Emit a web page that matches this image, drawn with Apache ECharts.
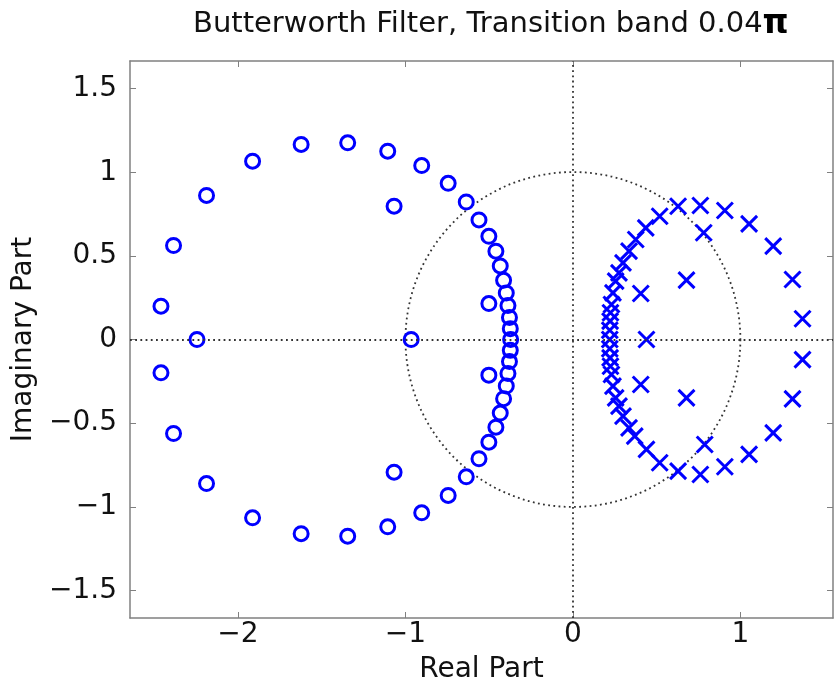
<!DOCTYPE html>
<html>
<head>
<meta charset="utf-8">
<script src="https://cdn.jsdelivr.net/npm/echarts@6/dist/echarts.min.js"></script>
<style>
    html, body { margin: 0; padding: 0; background: #fff; }
    #chart { width: 834px; height: 692px; }
</style>
</head>
<body>
<div id="chart"></div>
<script>
    // tick labels
    var xTicks = [-2, -1, 0, 1];
    var yTicks = [-1.5, -1, -0.5, 0, 0.5, 1, 1.5];

    // zeros (circles)
    var zerosRe = [
        -1.623, -1.913, -2.188, -2.385, -2.460, -2.245, -2.460, -2.385, -2.188, -1.913, -1.623,
        -1.345, -1.106, -0.903, -0.745, -0.637, -0.561, -0.502, -0.460, -0.434, -0.414, -0.398, -0.388, -0.379, -0.374,
        -0.372,
        -0.374, -0.379, -0.388, -0.398, -0.414, -0.434, -0.460, -0.502, -0.561, -0.637, -0.745, -0.903, -1.106, -1.345,
        -1.068, -1.068, -0.502, -0.502, -0.966
    ];
    var zerosIm = [
        1.166, 1.066, 0.861, 0.562, 0.199, 0, -0.199, -0.562, -0.861, -1.066, -1.161,
        1.176, 1.126, 1.040, 0.934, 0.822, 0.715, 0.617, 0.528, 0.440, 0.354, 0.278, 0.203, 0.132, 0.065,
        0,
        -0.065, -0.132, -0.203, -0.278, -0.354, -0.440, -0.524, -0.614, -0.713, -0.821, -0.932, -1.036, -1.120, -1.176,
        0.797, -0.793, 0.215, -0.213, 0
    ];

    // poles (crosses)
    var polesRe = [
        0.628, 0.761, 0.907, 1.052, 1.196, 1.311, 1.371, 1.371, 1.311, 1.196, 1.052, 0.907, 0.761, 0.628,
        0.781, 0.678, 0.405, 0.439, 0.405, 0.678, 0.787,
        0.518, 0.435, 0.375, 0.335, 0.299, 0.275, 0.255, 0.239, 0.230, 0.224, 0.222, 0.220,
        0.220,
        0.220, 0.222, 0.224, 0.230, 0.239, 0.255, 0.275, 0.299, 0.335, 0.369, 0.439, 0.518
    ];
    var polesIm = [
        0.797, 0.801, 0.771, 0.691, 0.558, 0.359, 0.124, -0.120, -0.355, -0.558, -0.687, -0.761, -0.807, -0.787,
        0.638, 0.355, 0.275, 0, -0.269, -0.349, -0.628,
        0.737, 0.667, 0.598, 0.528, 0.458, 0.398, 0.349, 0.279, 0.209, 0.160, 0.110, 0.055,
        0,
        -0.055, -0.110, -0.160, -0.209, -0.279, -0.349, -0.398, -0.458, -0.528, -0.578, -0.657, -0.737
    ];

    function pairs(re, im) {
        var out = [];
        for (var i = 0; i < re.length; i++) out.push([re[i], im[i]]);
        return out;
    }

    var font = 'DejaVu Sans';
    var frameColor = '#808080';
    var xMin = -2.645, xMax = 1.553, yMin = -1.665, yMax = 1.665;

    function minusFmt(v) {
        return String(v).replace('-', '\u2212');
    }

    var chart = echarts.init(document.getElementById('chart'));
    chart.setOption({
        backgroundColor: '#fff',
        animation: false,
        title: {
            text: 'Butterworth Filter, Transition band 0.04{p|\u03c0}',
            left: 188,
            top: 3,
            textStyle: {
                fontFamily: font,
                fontSize: 29,
                fontWeight: 'normal',
                color: '#111',
                rich: {
                    p: { fontFamily: font, fontSize: 33, fontWeight: 'bold', color: '#000' }
                }
            }
        },
        grid: { left: 130, right: 1, top: 61, bottom: 74 },
        xAxis: [{
            type: 'value',
            min: xMin, max: xMax,
            name: 'Real Part',
            nameLocation: 'middle',
            nameGap: 38,
            nameTextStyle: { fontFamily: font, fontSize: 28, color: '#111' },
            axisLine: { onZero: false, lineStyle: { color: frameColor, width: 1.5 } },
            axisTick: { inside: true, length: 6, customValues: xTicks, lineStyle: { color: frameColor } },
            axisLabel: {
                customValues: xTicks, margin: 3, formatter: minusFmt,
                fontFamily: font, fontSize: 28, color: '#111'
            },
            splitLine: { show: false }
        }, {
            type: 'value',
            position: 'top',
            min: xMin, max: xMax,
            axisLine: { onZero: false, lineStyle: { color: frameColor, width: 1.5 } },
            axisTick: { inside: true, length: 6, customValues: xTicks, lineStyle: { color: frameColor } },
            axisLabel: { show: false },
            splitLine: { show: false }
        }],
        yAxis: [{
            type: 'value',
            min: yMin, max: yMax,
            name: 'Imaginary Part',
            nameLocation: 'middle',
            nameGap: 66,
            nameTextStyle: { fontFamily: font, fontSize: 28, color: '#111' },
            axisLine: { show: true, onZero: false, lineStyle: { color: frameColor, width: 1.5 } },
            axisTick: { show: true, inside: true, length: 6, customValues: yTicks, lineStyle: { color: frameColor } },
            axisLabel: {
                customValues: yTicks, margin: 13, formatter: minusFmt,
                fontFamily: font, fontSize: 28, color: '#111'
            },
            splitLine: { show: false }
        }, {
            type: 'value',
            position: 'right',
            min: yMin, max: yMax,
            axisLine: { show: true, onZero: false, lineStyle: { color: frameColor, width: 1.5 } },
            axisTick: { show: true, inside: true, length: 6, customValues: yTicks, lineStyle: { color: frameColor } },
            axisLabel: { show: false },
            splitLine: { show: false }
        }],
        series: [{
            // unit circle plus the two dotted axes
            type: 'custom',
            silent: true,
            z: 1,
            data: [[0, 0, 1]],
            encode: { x: 0, y: 1 },
            renderItem: function (params, api) {
                var c = api.coord([api.value(0), api.value(1)]);
                var r = api.size([api.value(2), api.value(2)]);
                return {
                    type: 'circle',
                    shape: { cx: c[0], cy: c[1], r: r[0] },
                    style: { fill: 'none', stroke: '#333', lineWidth: 1.8, lineDash: [1.8, 3.4] }
                };
            },
            markLine: {
                silent: true,
                symbol: 'none',
                label: { show: false },
                lineStyle: { color: '#333', width: 1.8, type: [1.8, 3.4] },
                data: [{ xAxis: 0 }, { yAxis: 0 }]
            }
        }, {
            name: 'zeros',
            type: 'scatter',
            z: 3,
            symbol: 'circle',
            symbolSize: 14,
            itemStyle: { color: 'rgba(0,0,0,0)', borderColor: '#0000ff', borderWidth: 3, opacity: 1 },
            data: pairs(zerosRe, zerosIm)
        }, {
            name: 'poles',
            type: 'scatter',
            z: 3,
            symbol: 'path://M0,0L10,10M10,0L0,10',
            symbolSize: 16,
            itemStyle: { color: 'rgba(0,0,0,0)', borderColor: '#0000ff', borderWidth: 3, opacity: 1 },
            data: pairs(polesRe, polesIm)
        }]
    });
</script>
</body>
</html>
